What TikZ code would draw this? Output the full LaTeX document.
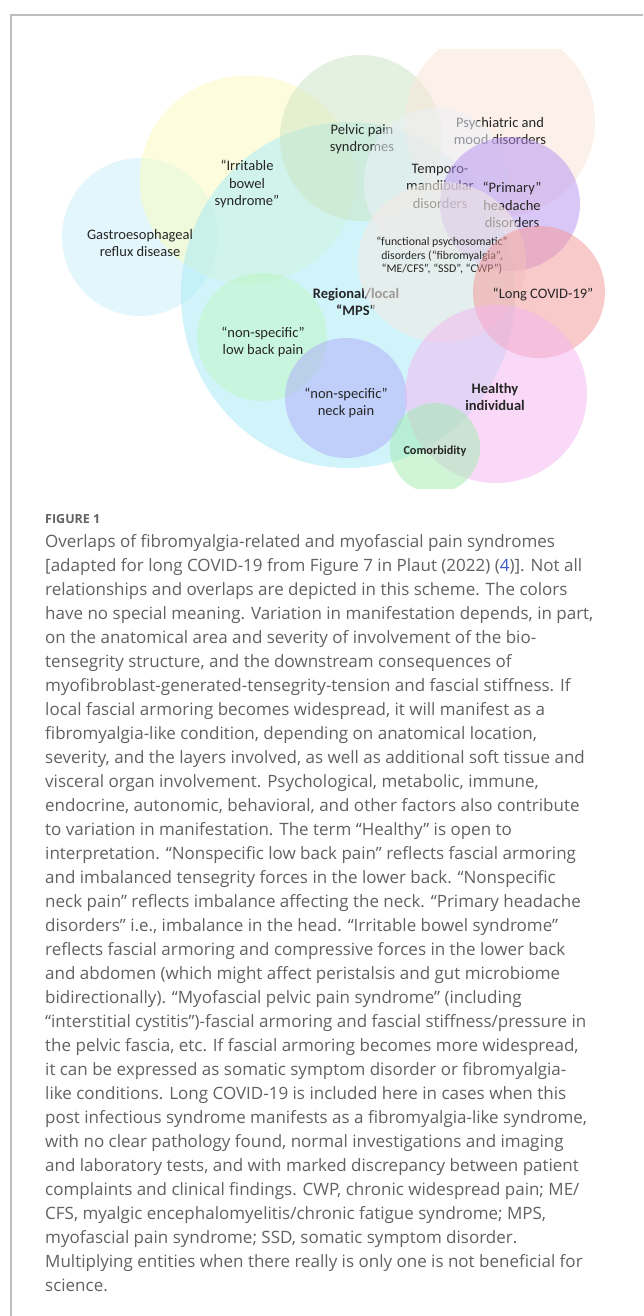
\documentclass[tikz,border=0pt]{standalone}
\usepackage{fontspec}
\setmainfont{Open Sans}
\newfontfamily\calfont{Carlito}
\newfontfamily\capfont{Open Sans}
\definecolor{cGastro}{RGB}{199,239,249}
\definecolor{cYellow}{RGB}{253,253,189}
\definecolor{cCyan}{RGB}{165,235,249}
\definecolor{cPelvic}{RGB}{205,229,195}
\definecolor{cPeach}{RGB}{249,229,215}
\definecolor{cTempo}{RGB}{236,240,248}
\definecolor{cPurple}{RGB}{181,145,241}
\definecolor{cFunc}{RGB}{242,234,226}
\definecolor{cCovid}{RGB}{245,150,150}
\definecolor{cLow}{RGB}{190,247,192}
\definecolor{cNeck}{RGB}{174,171,248}
\definecolor{cHealthy}{RGB}{245,181,241}
\definecolor{cComorb}{RGB}{161,235,175}
\definecolor{labcol}{RGB}{38,38,38}
\definecolor{capcol}{RGB}{98,98,98}
\definecolor{linkcol}{RGB}{60,90,200}
\definecolor{framecol}{RGB}{190,190,190}
\tikzset{
  blob/.style={draw=none, fill opacity=0.5},
  lab/.style={font=\calfont\fontsize{14.5}{17.5}\selectfont, align=center, text=labcol, inner sep=0pt},
  labb/.style={lab, font=\calfont\bfseries\fontsize{14.5}{17.5}\selectfont},
  smalllab/.style={lab, font=\calfont\fontsize{11.8}{13.5}\selectfont},
  capline/.style={anchor=base west, inner sep=0pt, text=capcol, font=\capfont\fontsize{17}{24}\selectfont}
}
\begin{document}
\begin{tikzpicture}[x=1pt,y=-1pt]
\useasboundingbox (0,0) rectangle (643,1316);
\fill[white] (0,0) rectangle (643,1316);
\draw[framecol, line width=1.3pt] (11,1316) -- (11,15) -- (643,15);

\begin{scope}
\clip (40,50) rectangle (620,488);
% gastro
\path[blob, fill=cGastro] (140,237) ellipse [x radius=78, y radius=79];
% IBS
\path[blob, fill=cYellow] (247.5,179.5) ellipse [x radius=108, y radius=104];
% big cyan MPS
\path[blob, fill=cCyan] (348,295) ellipse [x radius=167, y radius=173];
% low back
\path[blob, fill=cLow] (262,337) ellipse [x radius=65, y radius=64];
\node[lab] (tlow) at (263,342) {“non-specific”\\low back pain};
% pelvic
\path[blob, fill=cPelvic] (361,138) ellipse [x radius=81, y radius=83];
\node[lab] (tpelvic) at (362,139) {Pelvic pain\\syndromes};
% peach
\path[blob, fill=cPeach] (500,122) ellipse [x radius=95, y radius=95];
\node[lab] (tpsych) at (500,131) {Psychiatric and\\mood disorders};
% temporomandibular
\path[draw=none, fill=cTempo, fill opacity=0.55] (436,183) ellipse [x radius=72, y radius=75];
\node[lab] (ttemp) at (440,186) {Temporo-\\mandibular\\disorders};
% purple headache
\path[blob, fill=cPurple] (510,204) ellipse [x radius=70, y radius=67];
\node[lab] (tprim) at (512,205) {“Primary”\\headache\\disorders};
% MPS text
\node[labb] (tmps) at (356,302) {Regional/local\\“MPS”};
% functional
\path[draw=none, fill=cFunc, fill opacity=0.6] (442,262) ellipse [x radius=84, y radius=80];
\node[smalllab] (tfunc) at (442,256) {“functional psychosomatic”\\disorders (“fibromyalgia”,\\“ME/CFS”, “SSD”, “CWP”)};
% long covid
\path[blob, fill=cCovid] (539,292) ellipse [x radius=66, y radius=66];
\node[lab] (tcovid) at (543,295) {“Long COVID-19”};
% neck
\path[blob, fill=cNeck] (346,398) ellipse [x radius=61, y radius=60];
\node[lab] (tneck) at (346,403) {“non-specific”\\neck pain};
% healthy
\path[blob, fill=cHealthy] (496,394) ellipse [x radius=91, y radius=89];
\node[labb] (thealthy) at (495,397) {Healthy\\individual};
% comorbidity
\path[blob, fill=cComorb] (435,448) ellipse [x radius=45, y radius=45];
\node[labb, font=\calfont\bfseries\fontsize{12.2}{14}\selectfont] (tcomorb) at (435,451) {Comorbidity};
\end{scope}
\node[lab] (tgastro) at (140,243) {Gastroesophageal\\reflux disease};
\node[lab] (tibs) at (247,184) {“Irritable\\bowel\\syndrome”};

% caption
\node[anchor=base west, inner sep=0pt, text=capcol, font=\capfont\bfseries\fontsize{12.5}{15}\selectfont] (fig) at (45,523) {FIGURE 1};
\node[capline] (c1) at (45,547) {Overlaps of fibromyalgia-related and myofascial pain syndromes};
\node[capline] (c2) at (45,571) {[adapted for long COVID-19 from Figure 7 in Plaut (2022) (\textcolor{linkcol}{4})]. Not all};
\node[capline] (c3) at (45,595) {relationships and overlaps are depicted in this scheme. The colors};
\node[capline] (c4) at (45,619) {have no special meaning. Variation in manifestation depends, in part,};
\node[capline] (c5) at (45,643) {on the anatomical area and severity of involvement of the bio-};
\node[capline] (c6) at (45,667) {tensegrity structure, and the downstream consequences of};
\node[capline] (c7) at (45,691) {myofibroblast-generated-tensegrity-tension and fascial stiffness. If};
\node[capline] (c8) at (45,715) {local fascial armoring becomes widespread, it will manifest as a};
\node[capline] (c9) at (45,739) {fibromyalgia-like condition, depending on anatomical location,};
\node[capline] (c10) at (45,763) {severity, and the layers involved, as well as additional soft tissue and};
\node[capline] (c11) at (45,787) {visceral organ involvement. Psychological, metabolic, immune,};
\node[capline] (c12) at (45,811) {endocrine, autonomic, behavioral, and other factors also contribute};
\node[capline] (c13) at (45,835) {to variation in manifestation. The term “Healthy” is open to};
\node[capline] (c14) at (45,859) {interpretation. “Nonspecific low back pain” reflects fascial armoring};
\node[capline] (c15) at (45,883) {and imbalanced tensegrity forces in the lower back. “Nonspecific};
\node[capline] (c16) at (45,907) {neck pain” reflects imbalance affecting the neck. “Primary headache};
\node[capline] (c17) at (45,931) {disorders” i.e., imbalance in the head. “Irritable bowel syndrome”};
\node[capline] (c18) at (45,955) {reflects fascial armoring and compressive forces in the lower back};
\node[capline] (c19) at (45,979) {and abdomen (which might affect peristalsis and gut microbiome};
\node[capline] (c20) at (45,1003) {bidirectionally). “Myofascial pelvic pain syndrome” (including};
\node[capline] (c21) at (45,1027) {“interstitial cystitis”)-fascial armoring and fascial stiffness/pressure in};
\node[capline] (c22) at (45,1051) {the pelvic fascia, etc. If fascial armoring becomes more widespread,};
\node[capline] (c23) at (45,1075) {it can be expressed as somatic symptom disorder or fibromyalgia-};
\node[capline] (c24) at (45,1099) {like conditions. Long COVID-19 is included here in cases when this};
\node[capline] (c25) at (45,1123) {post infectious syndrome manifests as a fibromyalgia-like syndrome,};
\node[capline] (c26) at (45,1147) {with no clear pathology found, normal investigations and imaging};
\node[capline] (c27) at (45,1171) {and laboratory tests, and with marked discrepancy between patient};
\node[capline] (c28) at (45,1195) {complaints and clinical findings. CWP, chronic widespread pain; ME/};
\node[capline] (c29) at (45,1219) {CFS, myalgic encephalomyelitis/chronic fatigue syndrome; MPS,};
\node[capline] (c30) at (45,1243) {myofascial pain syndrome; SSD, somatic symptom disorder.};
\node[capline] (c31) at (45,1267) {Multiplying entities when there really is only one is not beneficial for};
\node[capline] (c32) at (45,1291) {science.};
\end{tikzpicture}
\end{document}
